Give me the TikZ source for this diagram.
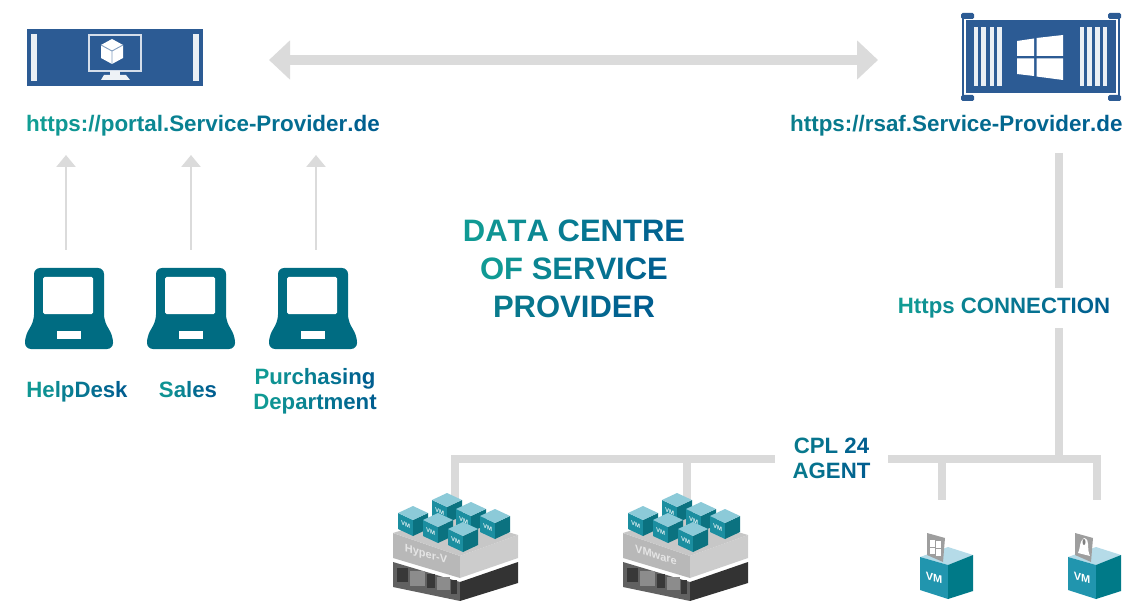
\documentclass[tikz,border=0pt]{standalone}
\usepackage{fontspec}
\setmainfont{Liberation Sans}
\usetikzlibrary{arrows.meta}
\definecolor{cA}{HTML}{12A094}
\definecolor{cC}{HTML}{0A7F8C}
\definecolor{cB}{HTML}{005E90}
\definecolor{srv}{HTML}{2C5B94}
\definecolor{lap}{HTML}{006C82}
\definecolor{grayl}{HTML}{DBDBDB}
\definecolor{grayt}{HTML}{DADADA}
\definecolor{ctop}{HTML}{8CCAD8}
\definecolor{cleft}{HTML}{1B8EA0}
\definecolor{cright}{HTML}{0B7280}
\definecolor{vleft}{HTML}{2195AE}
\definecolor{vright}{HTML}{007A88}
\definecolor{vtop}{HTML}{B5DBE8}
\ExplSyntaxOn
\NewDocumentCommand\gradtxt{O{cA}m}{
  \int_zero:N \l_tmpa_int
  \int_set:Nn \l_tmpb_int {\str_count:n{#2}}
  \str_map_inline:nn{#2}{
    \int_incr:N \l_tmpa_int
    \exp_args:Ne \color{#1!\int_eval:n{100-100*\l_tmpa_int/\l_tmpb_int}!cB}\relax ##1
  }
}
\ExplSyntaxOff
\tikzset{
  x=1pt,y=-1pt,
  lbl/.style={font=\bfseries\fontsize{22.2}{25}\selectfont,inner sep=0pt,align=center},
  url/.style={font=\bfseries\fontsize{22.4}{25}\selectfont,inner sep=0pt,anchor=west},
  ttl/.style={font=\bfseries\fontsize{31}{38}\selectfont,inner sep=0pt,align=center},
  thick line/.style={draw=grayt,line width=8.5pt},
  thin arrow/.style={draw=grayl,line width=2.6pt,-{Triangle[length=12pt,width=19pt]}},
  big arrow/.style={draw=grayl,line width=10pt,{Triangle[length=21pt,width=38pt]}-{Triangle[length=21pt,width=38pt]}},
  lapbox/.style={minimum width=88pt,minimum height=81pt,inner sep=0pt},
  laptop/.pic={
    \fill[lap,rounded corners=6pt] (-44,40.5) -- (-44,28) -- (-35,12) -- (-35,-40.5) -- (35,-40.5) -- (35,12) -- (44,28) -- (44,40.5) -- cycle;
    \fill[white,rounded corners=1.5pt] (-26,-31.5) rectangle (24,5.5);
    \fill[white] (-12,22.5) rectangle (12,30.5);
  },
  cube/.pic={
    \fill[cleft] (-15,0) -- (0,7) -- (0,23) -- (-15,16) -- cycle;
    \fill[cright] (15,0) -- (0,7) -- (0,23) -- (15,16) -- cycle;
    \fill[ctop] (-15,0) -- (0,-7) -- (15,0) -- (0,7) -- cycle;
    \node[text=white!85!cleft,font=\bfseries\fontsize{6}{6}\selectfont,inner sep=0pt,yslant=-0.45,transform shape] at (-7.5,11.5) {VM};
  },
  stack/.pic={
    % dark slab
    \fill[black!62] (393,562) -- (460,582) -- (460,601) -- (393,587) -- cycle;
    \fill[black!80] (460,582) -- (518,562) -- (518,583) -- (460,601) -- cycle;
    \fill[black!78] (397,568) rectangle (408,582);
    \fill[black!45] (410,571) rectangle (425,586);
    \fill[black!78] (427,574) rectangle (435,588);
    \fill[black!45] (437,577) rectangle (450,590);
    \fill[black!78] (451,580) rectangle (457,594);
    % grey slab
    \fill[black!28] (393,533) -- (460,556) -- (460,578) -- (393,558) -- cycle;
    \fill[black!20] (460,556) -- (518,535) -- (518,558) -- (460,578) -- cycle;
    \fill[black!22] (393,533) -- (450,515) -- (518,535) -- (460,556) -- cycle;
    \draw[white,line width=1pt] (393,559.5) -- (460,579.5) -- (518,559.5);
    \pic at (447,500) {cube};
    \pic at (471,509) {cube};
    \pic at (413,513) {cube};
    \pic at (495,516) {cube};
    \pic at (438,520) {cube};
    \pic at (463,529) {cube};
  },
  vmbox/.pic={
    \fill[vtop] (920,557) -- (948,547) -- (973,555) -- (948,565) -- cycle;
    \fill[black!38] (927,533) -- (945,538) -- (943,562) -- (927,555) -- cycle;
    \fill[vleft] (920,557) -- (948,565) -- (948,599) -- (920,590) -- cycle;
    \fill[vright] (948,565) -- (973,555) -- (973,591) -- (948,599) -- cycle;
    \node[text=white,font=\bfseries\fontsize{11}{11}\selectfont,inner sep=0pt,yslant=-0.25,transform shape] at (934,578) {VM};
  }
}
\begin{document}
\begin{tikzpicture}
\useasboundingbox (0,0) rectangle (1131,601);

% coordinates for connector ends
\coordinate (bigL) at (269,60);
\coordinate (bigR) at (878,60);
\foreach \n/\xx in {1/66,2/191,3/316}{
  \coordinate (up\n a) at (\xx,250);
  \coordinate (up\n b) at (\xx,155);
}
\coordinate (trunkTop) at (1059,153);
\coordinate (trunkBot) at (1059,459);
\coordinate (busL) at (455,459);
\coordinate (busR) at (1097,459);
\coordinate (d1) at (455,505);
\coordinate (d2) at (687,505);
\coordinate (d3) at (942,500);
\coordinate (d4) at (1097,496);

% connectors
\draw[big arrow] (bigL) -- (bigR);
\foreach \n in {1,2,3}{\draw[thin arrow] (up\n a) -- (up\n b);}
\draw[thick line] (trunkTop) -- (trunkBot);
\draw[thick line,line cap=rect] (d1) -- (busL) -- (busR) -- (d4);
\draw[thick line] (d2 |- busL) -- (d2);
\draw[thick line] (d3 |- busL) -- (d3);

% left server
\node[fill=srv,minimum width=176pt,minimum height=57pt,inner sep=0pt] (portalsrv) at (115,57.5) {};
\fill[white!90!srv] (31,34) rectangle (37,81);
\fill[white!90!srv] (193,34) rectangle (199,81);
\draw[white!80!srv,line width=2pt] (89,35) rectangle (141,71);
\fill[white!92!srv] (110,71) rectangle (120,75);
\fill[white!92!srv] (104,75) -- (126,75) -- (130,80) -- (101,80) -- cycle;
\fill[white] (112,39) -- (123,45) -- (123,58) -- (112,64) -- (101,58) -- (101,45) -- cycle;
\draw[srv!60!white,line width=.9pt] (101,45) -- (112,51) -- (123,45) (112,51) -- (112,64);

% right server
\node[fill=srv,minimum width=150pt,minimum height=73pt,inner sep=0pt] (rsafsrv) at (1041,56.5) {};
\draw[srv,line width=2.6pt] (963,16) -- (963,98);
\draw[srv,line width=2.6pt] (1119,16) -- (1119,98);
\fill[srv,rounded corners=1.5pt] (961,13) rectangle (974,19);
\fill[srv,rounded corners=1.5pt] (1108,13) rectangle (1121,19);
\fill[srv,rounded corners=1.5pt] (961,95) rectangle (974,101);
\fill[srv,rounded corners=1.5pt] (1108,95) rectangle (1121,101);
\foreach \xx in {973.5,981,989.5,997,1079.5,1087,1095,1102.5}{
  \fill[white!90!srv] (\xx,27) rectangle ++(4.5,59);
}
\fill[white] (1017,41) -- (1034,38.5) -- (1034,56) -- (1017,56) -- cycle;
\fill[white] (1036.5,38) -- (1063,35) -- (1063,56) -- (1036.5,56) -- cycle;
\fill[white] (1017,58.5) -- (1034,58.5) -- (1034,76) -- (1017,74) -- cycle;
\fill[white] (1036.5,58.5) -- (1063,58.5) -- (1063,80) -- (1036.5,76.5) -- cycle;

% URLs
\node[url] (portalurl) at (26,126) {\gradtxt{https://portal.Service-Provider.de}};
\node[url] (rsafurl) at (790,126) {\gradtxt[cC]{https://rsaf.Service-Provider.de}};

% title
\node[ttl] (title) at (574,269) {\gradtxt{DATA CENTRE}\\[0pt]\gradtxt{OF SERVICE}\\[0pt]\gradtxt[cC]{PROVIDER}};

% laptops
\node[lapbox] (lap1) at (69,308.5) {};
\node[lapbox] (lap2) at (191,308.5) {};
\node[lapbox] (lap3) at (313,308.5) {};
\pic at (lap1) {laptop};
\pic at (lap2) {laptop};
\pic at (lap3) {laptop};
\node[lbl] (help) at (77,392) {\gradtxt{HelpDesk}};
\node[lbl] (sales) at (188,390) {\gradtxt{Sales}};
\node[lbl] (purch) at (315,391.5) {\gradtxt{Purchasing}\\\gradtxt{Department}};

% connector labels
\node[lbl,fill=white,minimum width=216pt,minimum height=40pt] (https) at (1004,308) {\raisebox{-2pt}{\gradtxt{Https CONNECTION}}};
\node[lbl,fill=white,minimum width=113pt,minimum height=54pt] (cpl) at (831.5,458.5) {\gradtxt[cC]{CPL 24}\\\gradtxt[cC]{AGENT}};

% stacks
\pic at (0,0) {stack};
\pic at (230,0) {stack};
\node[text=white!90!black,font=\bfseries\fontsize{11}{11}\selectfont,inner sep=0pt,yslant=-0.3,transform shape] (hv) at (426,555) {Hyper-V};
\node[text=white!90!black,font=\bfseries\fontsize{11}{11}\selectfont,inner sep=0pt,yslant=-0.3,transform shape] (vmw) at (656,555) {VMware};

% VM boxes
\pic at (0,0) {vmbox};
\pic at (148,0) {vmbox};
\foreach \xa/\ya/\xb/\yb in {930/540/935/547, 936/541/941/548, 930/548/935/554, 936/549/941/556}{
  \fill[white] (\xa,\ya) rectangle (\xb,\yb);
}
\fill[white] (1084,538) .. controls (1091,540) and (1086,548) .. (1090,556) -- (1078,553) .. controls (1081,546) and (1079,542) .. (1084,538) -- cycle;
\fill[black!50] (1084,542) ellipse (1.5pt and 3pt);
\end{tikzpicture}
\end{document}
